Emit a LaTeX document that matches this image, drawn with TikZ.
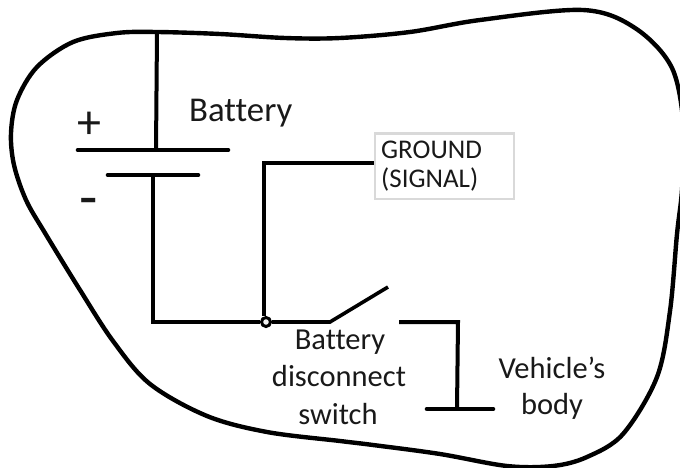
\documentclass[tikz,border=0pt]{standalone}
\usepackage{fontspec}
\setmainfont[Ligatures=NoCommon]{Carlito}
\begin{document}
\begin{tikzpicture}[x=1pt,y=-1pt,
  wire/.style={line width=4pt,line join=miter},
  plate/.style={line width=4.6pt,line cap=round},
  lab/.style={font=\fontsize{30.5}{35}\selectfont,inner sep=0pt,text=black!90},
  boxlab/.style={draw=black!15,line width=2.4pt,fill=white,minimum width=139pt,minimum height=65pt,inner sep=0pt,anchor=north west}]
\useasboundingbox (0,0) rectangle (680,468);
\clip (0,0) rectangle (680,468);
\draw[line width=4.4pt,black] plot[smooth cycle,tension=0.55] coordinates {
 (157,32) (220,34) (285,38) (340,38) (410,32) (480,20) (583,10) (635,28) (672,68) (684,130) (682,190) (677,234) (670,311) (657,377) (623,434) (587,457) (553,466) (507,466) (440,454) (373,445) (340,441) (267,432) (207,416) (150,384) (113,341) (80,290) (45,233) (26,200) (14,165) (11,133) (17,100) (37,67) (73,42) (117,33)};
\coordinate (top) at (157,32);
\coordinate (p1) at (78,150);
\coordinate (p2) at (228,150);
\coordinate (p3) at (108,175);
\coordinate (p4) at (198,175);
\coordinate (ptop) at (156,150);
\coordinate (nbat) at (153,175);
\coordinate (corner) at (153,322);
\coordinate (sw1) at (330,322);
\coordinate (sw2) at (388,287);
\coordinate (sw3) at (399,322);
\coordinate (b1) at (458,322);
\coordinate (b2) at (457,409);
\coordinate (g1) at (427,409);
\coordinate (g2) at (493,409);
\coordinate (gcorner) at (264,163);
\node[boxlab] (ground) at (374,132.5) {};
\node[lab,font=\fontsize{27}{28}\selectfont,anchor=base west] (groundtxt) at (381,158) {GROUND};
\node[lab,font=\fontsize{27}{28}\selectfont,anchor=base west] (signaltxt) at (381,187) {(SIGNAL)};
\draw[wire] (top) -- (ptop);
\draw[plate] (p1) -- (p2);
\draw[plate] (p3) -- (p4);
\node[draw=black,fill=black!5,line width=3pt,circle,minimum size=9pt,inner sep=0pt] (junction) at (266,322) {};
\draw[wire] (nbat) -- (corner) -- (junction.west);
\draw[wire] (junction.north -| gcorner) -- (gcorner) -- (gcorner -| ground.west);
\draw[wire,line width=3.6pt] (junction.east) -- (sw1) -- (sw2);
\draw[wire] (sw3) -- (b1) -- (b2);
\draw[plate] (g1) -- (g2);
\node[lab,font=\fontsize{34.8}{35}\selectfont,anchor=base west] (battery) at (189,122) {Battery};
\node[lab,font=\fontsize{48}{48}\selectfont,anchor=center] (plus) at (89,125) {+};
\node[lab,font=\fontsize{60}{60}\selectfont,anchor=base] (minus) at (89,217) {-};
\node[lab,anchor=base] (swa) at (340,349) {Battery};
\node[lab,anchor=base] (swb) at (339,386) {disconnect};
\node[lab,anchor=base] (swc) at (338,424) {switch};
\node[lab,anchor=base] (veha) at (552,378) {Vehicle’s};
\node[lab,anchor=base] (vehb) at (552,414) {body};
\end{tikzpicture}
\end{document}
